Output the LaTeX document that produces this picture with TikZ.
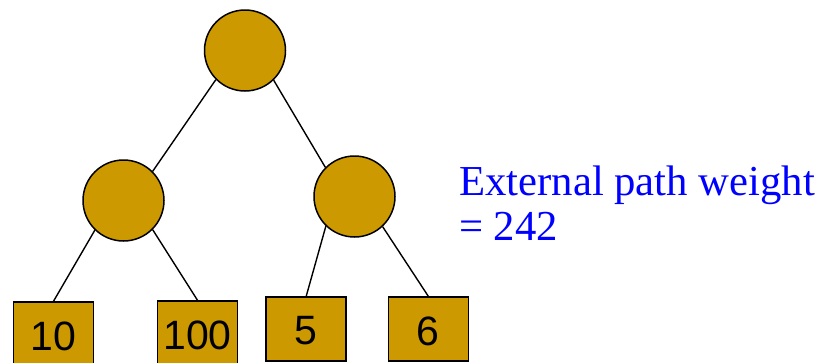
\documentclass[tikz,border=0pt]{standalone}
\usepackage{fontspec}
\setmainfont{Liberation Serif}
\newfontfamily\arialf{Liberation Sans}
\definecolor{gold}{RGB}{204,153,0}
\definecolor{txtblue}{RGB}{0,0,255}
\tikzset{
  inode/.style={circle,draw=black,fill=gold,line width=1.5pt,minimum size=81pt,inner sep=0pt},
  leafbox/.style={rectangle,draw=black,fill=gold,line width=1.5pt,minimum width=80pt,minimum height=64pt,inner sep=0pt},
  leaftxt/.style={font=\arialf\fontsize{41}{41}\selectfont,inner sep=0pt},
  edge/.style={draw=black,line width=1.4pt},
  lbl/.style={font=\fontsize{42.7}{45}\selectfont,text=txtblue,inner sep=0pt,anchor=base west}
}
\begin{document}
\begin{tikzpicture}[x=1pt,y=1pt]
\useasboundingbox (0,0) rectangle (821,-362);
\node[inode] (root) at (245,-50.5) {};
\node[inode] (lc) at (123.5,-200.5) {};
\node[inode] (rc) at (354.5,-196.5) {};
\node[leafbox] (l10) at (53.5,-334) {};
\node[leafbox] (l100) at (197.5,-333) {};
\node[leafbox] (l5) at (306.2,-329) {};
\node[leafbox] (l6) at (428.3,-329) {};
\node[leaftxt] (t10) at ([yshift=-2pt]l10.center) {10};
\node[leaftxt] (t100) at ([yshift=-2pt]l100.center) {100};
\node[leaftxt] (t5) at ([yshift=-2pt]l5.center) {5};
\node[leaftxt] (t6) at ([yshift=-2pt]l6.center) {6};
\draw[edge] (root.225) -- (lc.45);
\draw[edge] (root.314) -- (rc.135);
\draw[edge] (lc.226) -- (l10.north);
\draw[edge] (lc.315) -- (l100.north);
\draw[edge] (rc.226) -- (l5.north);
\draw[edge] (rc.313) -- (l6.north);
\node[lbl] (w1) at (459,-195) {External path weight};
\node[lbl] (w2) at (459,-240) {= 242};
\end{tikzpicture}
\end{document}
